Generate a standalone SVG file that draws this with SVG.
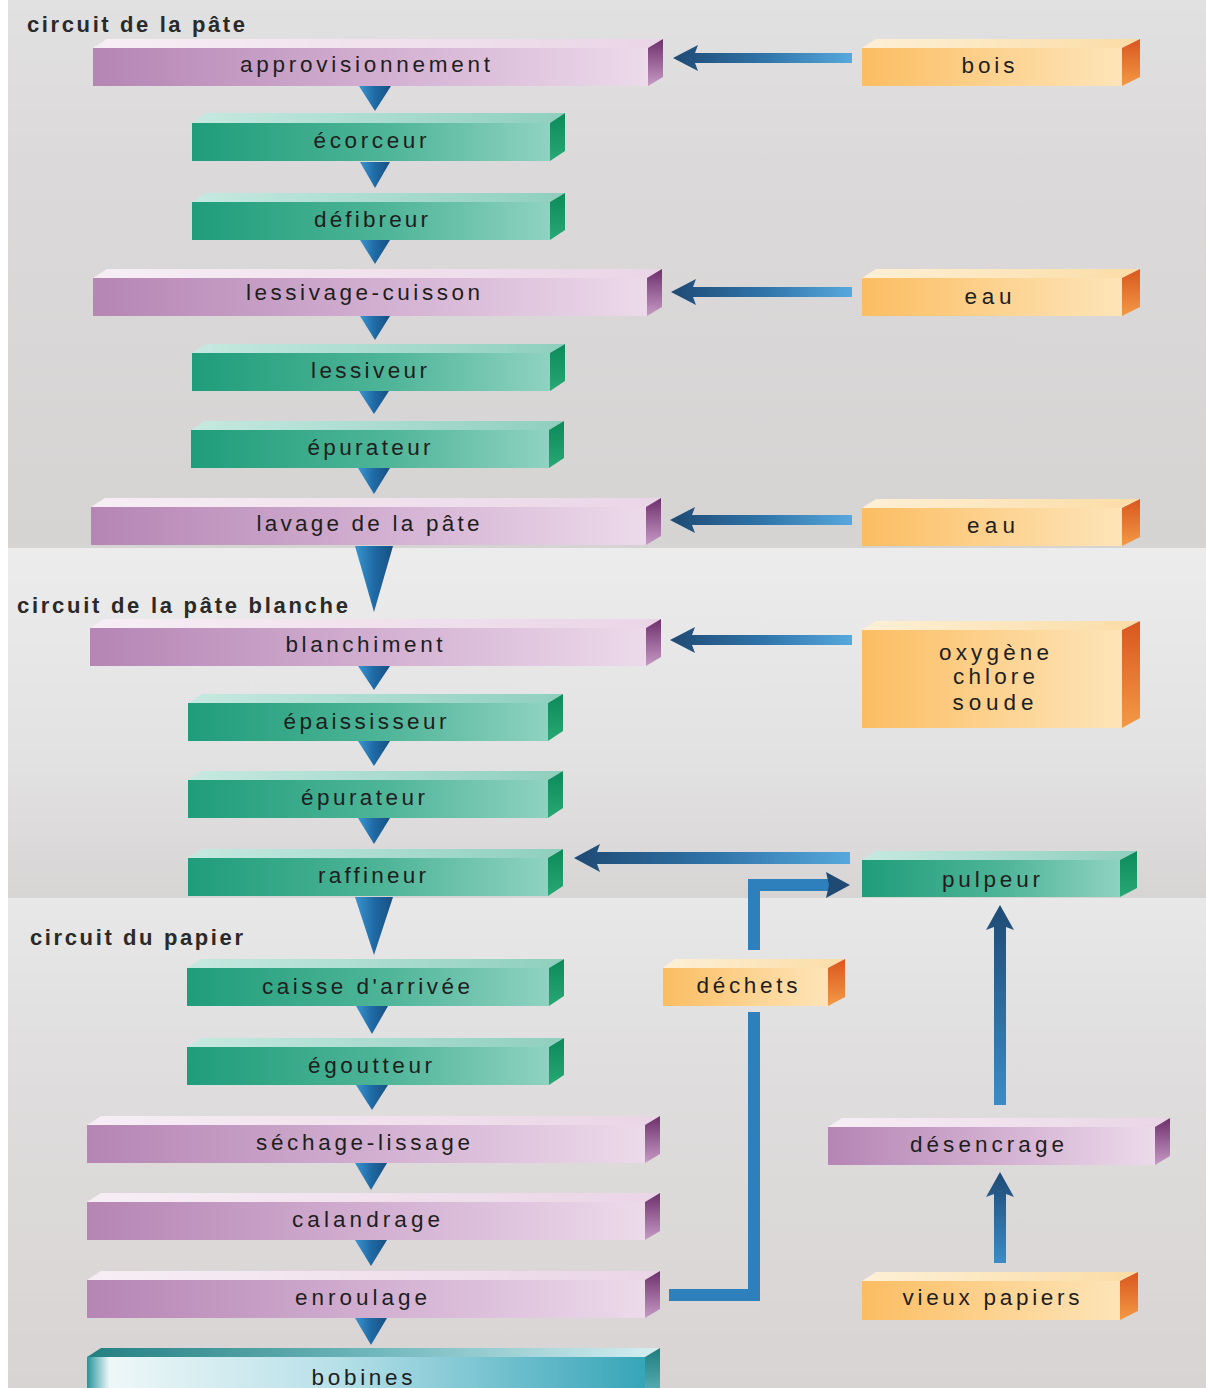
<svg xmlns="http://www.w3.org/2000/svg" width="1206" height="1388" viewBox="0 0 1206 1388">
<defs>
<linearGradient id="bg1" x1="0" y1="0" x2="0" y2="1"><stop offset="0" stop-color="#e2e1e1"/><stop offset="0.3" stop-color="#dbd9d9"/><stop offset="1" stop-color="#d6d3d3"/></linearGradient>
<linearGradient id="bg2" x1="0" y1="0" x2="0" y2="1"><stop offset="0" stop-color="#ececec"/><stop offset="0.6" stop-color="#e3e2e2"/><stop offset="1" stop-color="#d7d4d4"/></linearGradient>
<linearGradient id="bg3" x1="0" y1="0" x2="0" y2="1"><stop offset="0" stop-color="#e8e8e8"/><stop offset="0.4" stop-color="#dedcdc"/><stop offset="1" stop-color="#d8d4d3"/></linearGradient>
<linearGradient id="gPf" x1="0" y1="0" x2="1" y2="0"><stop offset="0" stop-color="#b585b4"/><stop offset="0.55" stop-color="#d4b2d3"/><stop offset="1" stop-color="#ecdaea"/></linearGradient>
<linearGradient id="gPt" x1="0" y1="0" x2="1" y2="0"><stop offset="0" stop-color="#f7eef5"/><stop offset="1" stop-color="#ead5e6"/></linearGradient>
<linearGradient id="gPs" x1="0" y1="0" x2="0" y2="1"><stop offset="0" stop-color="#6d2f6c"/><stop offset="1" stop-color="#c69ac4"/></linearGradient>
<linearGradient id="gGf" x1="0" y1="0" x2="1" y2="0"><stop offset="0" stop-color="#1f9d7a"/><stop offset="0.55" stop-color="#4fb598"/><stop offset="1" stop-color="#8fd2c1"/></linearGradient>
<linearGradient id="gGt" x1="0" y1="0" x2="1" y2="0"><stop offset="0" stop-color="#c6e9e0"/><stop offset="1" stop-color="#8fcfbe"/></linearGradient>
<linearGradient id="gGs" x1="0" y1="0" x2="0" y2="1"><stop offset="0" stop-color="#0c8a5a"/><stop offset="1" stop-color="#28a874"/></linearGradient>
<linearGradient id="gOf" x1="0" y1="0" x2="1" y2="0"><stop offset="0" stop-color="#fbbd62"/><stop offset="0.55" stop-color="#fdd493"/><stop offset="1" stop-color="#fde4b8"/></linearGradient>
<linearGradient id="gOt" x1="0" y1="0" x2="1" y2="0"><stop offset="0" stop-color="#fdf0d6"/><stop offset="1" stop-color="#fbdca6"/></linearGradient>
<linearGradient id="gOs" x1="0" y1="0" x2="0" y2="1"><stop offset="0" stop-color="#d9561e"/><stop offset="1" stop-color="#f39a45"/></linearGradient>
<linearGradient id="gBf" x1="0" y1="0" x2="1" y2="0"><stop offset="0" stop-color="#25959c"/><stop offset="0.04" stop-color="#eef7f8"/><stop offset="0.45" stop-color="#b7e0e8"/><stop offset="1" stop-color="#36a5b8"/></linearGradient>
<linearGradient id="gBt" x1="0" y1="0" x2="1" y2="0"><stop offset="0" stop-color="#237f80"/><stop offset="0.5" stop-color="#6fb7bc"/><stop offset="1" stop-color="#d5eef1"/></linearGradient>
<linearGradient id="gBs" x1="0" y1="0" x2="0" y2="1"><stop offset="0" stop-color="#1e7d7c"/><stop offset="1" stop-color="#5fb3bb"/></linearGradient>
<linearGradient id="gAh" x1="0" y1="0" x2="1" y2="0"><stop offset="0" stop-color="#1f4a74"/><stop offset="0.5" stop-color="#2f73a8"/><stop offset="1" stop-color="#56a8dc"/></linearGradient>
<linearGradient id="gAv" x1="0" y1="0" x2="0" y2="1"><stop offset="0" stop-color="#1f4a74"/><stop offset="1" stop-color="#3a8cc6"/></linearGradient>
<linearGradient id="gTri" x1="0" y1="0" x2="1" y2="0"><stop offset="0" stop-color="#3b95cf"/><stop offset="0.5" stop-color="#1f6aa5"/><stop offset="1" stop-color="#174f80"/></linearGradient>
</defs>
<style>
.pf{fill:url(#gPf)} .pt{fill:url(#gPt)} .ps{fill:url(#gPs)}
.gf{fill:url(#gGf)} .gt{fill:url(#gGt)} .gs{fill:url(#gGs)}
.of{fill:url(#gOf)} .ot{fill:url(#gOt)} .os{fill:url(#gOs)}
.bf{fill:url(#gBf)} .bt{fill:url(#gBt)} .bs{fill:url(#gBs)}
.lbl{font-family:"Liberation Sans",Arial,sans-serif;font-size:22.5px;fill:#1e1e1e;text-anchor:middle}
.ttl{font-family:"Liberation Sans",Arial,sans-serif;font-size:22px;font-weight:bold;fill:#2a2a2a}
.ah{fill:url(#gAh)} .av{fill:url(#gAv)} .tri{fill:url(#gTri)}
.ln{fill:none;stroke:#2e80bd;stroke-width:12}
</style>
<rect x="0" y="0" width="1206" height="1388" fill="#ffffff"/>
<rect x="8" y="0" width="1198" height="548" fill="url(#bg1)"/>
<rect x="8" y="548" width="1198" height="350" fill="url(#bg2)"/>
<rect x="8" y="898" width="1198" height="490" fill="url(#bg3)"/>

<g id="titles">
<text class="ttl" x="27" y="32" textLength="218" lengthAdjust="spacing">circuit de la pâte</text>
<text class="ttl" x="17" y="613" textLength="331" lengthAdjust="spacing">circuit de la pâte blanche</text>
<text class="ttl" x="30" y="945" textLength="213" lengthAdjust="spacing">circuit du papier</text>
</g>

<g id="connectors">
<polygon class="tri" points="359,86 391,86 375,111"/>
<polygon class="tri" points="360,162 390,162 375,188"/>
<polygon class="tri" points="360,240 390,240 375,264"/>
<polygon class="tri" points="360,316 390,316 375,340"/>
<polygon class="tri" points="359,391 389,391 374,414"/>
<polygon class="tri" points="358,468 390,468 374,494"/>
<polygon class="tri" points="355,546 393,546 374,612"/>
<polygon class="tri" points="358,666 390,666 374,690"/>
<polygon class="tri" points="358,741 390,741 374,766"/>
<polygon class="tri" points="358,818 390,818 374,844"/>
<polygon class="tri" points="355,897 393,897 374,955"/>
<polygon class="tri" points="356,1006 388,1006 372,1034"/>
<polygon class="tri" points="356,1085 388,1085 372,1110"/>
<polygon class="tri" points="355,1163 387,1163 371,1190"/>
<polygon class="tri" points="355,1240 387,1240 371,1266"/>
<polygon class="tri" points="355,1318 387,1318 371,1345"/>
<polygon class="ah" points="673,58 698,45 695,53 852,53 852,63 695,63 698,71"/>
<polygon class="ah" points="671,292 696,279 693,287 852,287 852,297 693,297 696,305"/>
<polygon class="ah" points="670,520 695,507 692,515 852,515 852,525 692,525 695,533"/>
<polygon class="ah" points="670,640 695,627 692,635 852,635 852,645 692,645 695,653"/>
<polygon class="ah" points="574,858 600,844 597,852 850,852 850,864 597,864 600,872"/>
<polyline class="ln" points="669,1295 754,1295 754,1012"/>
<polyline class="ln" points="754,950 754,885 830,885"/>
<polygon fill="#1f4a74" points="850,885 826,872 829,885 826,898"/>
<polygon class="av" points="1000,905 1014,930 1006,927 1006,1105 994,1105 994,927 986,930"/>
<polygon class="av" points="1000,1172 1014,1197 1006,1194 1006,1263 994,1263 994,1194 986,1197"/>
</g>

<g id="n-approvisionnement"><polygon class="pt" points="93,48 107,39 663,39 648,48"/><rect class="pf" x="93" y="48" width="555" height="38"/><polygon class="ps" points="648,48 663,39 663,77 648,86"/><text class="lbl" x="365" y="72" textLength="250" lengthAdjust="spacing">approvisionnement</text></g>
<g id="n-ecorceur"><polygon class="gt" points="192,123 206,113 565,113 550,123"/><rect class="gf" x="192" y="123" width="358" height="38"/><polygon class="gs" points="550,123 565,113 565,151 550,161"/><text class="lbl" x="370" y="148" textLength="113" lengthAdjust="spacing">écorceur</text></g>
<g id="n-defibreur"><polygon class="gt" points="192,202 206,193 565,193 550,202"/><rect class="gf" x="192" y="202" width="358" height="38"/><polygon class="gs" points="550,202 565,193 565,230 550,240"/><text class="lbl" x="371" y="227" textLength="114" lengthAdjust="spacing">défibreur</text></g>
<g id="n-lessivage"><polygon class="pt" points="93,278 107,269 662,269 647,278"/><rect class="pf" x="93" y="278" width="554" height="38"/><polygon class="ps" points="647,278 662,269 662,307 647,316"/><text class="lbl" x="363" y="300" textLength="234" lengthAdjust="spacing">lessivage-cuisson</text></g>
<g id="n-lessiveur"><polygon class="gt" points="192,353 206,344 565,344 550,353"/><rect class="gf" x="192" y="353" width="358" height="38"/><polygon class="gs" points="550,353 565,344 565,381 550,391"/><text class="lbl" x="369" y="378" textLength="116" lengthAdjust="spacing">lessiveur</text></g>
<g id="n-epurateur1"><polygon class="gt" points="191,430 205,421 564,421 549,430"/><rect class="gf" x="191" y="430" width="358" height="38"/><polygon class="gs" points="549,430 564,421 564,458 549,468"/><text class="lbl" x="369" y="455" textLength="123" lengthAdjust="spacing">épurateur</text></g>
<g id="n-lavage"><polygon class="pt" points="91,507 105,498 661,498 646,507"/><rect class="pf" x="91" y="507" width="555" height="38"/><polygon class="ps" points="646,507 661,498 661,536 646,545"/><text class="lbl" x="368" y="531" textLength="223" lengthAdjust="spacing">lavage de la pâte</text></g>
<g id="n-blanchiment"><polygon class="pt" points="90,628 104,619 661,619 646,628"/><rect class="pf" x="90" y="628" width="556" height="38"/><polygon class="ps" points="646,628 661,619 661,657 646,666"/><text class="lbl" x="364" y="652" textLength="157" lengthAdjust="spacing">blanchiment</text></g>
<g id="n-epaississeur"><polygon class="gt" points="188,703 202,694 563,694 548,703"/><rect class="gf" x="188" y="703" width="360" height="38"/><polygon class="gs" points="548,703 563,694 563,731 548,741"/><text class="lbl" x="365" y="729" textLength="163" lengthAdjust="spacing">épaississeur</text></g>
<g id="n-epurateur2"><polygon class="gt" points="188,780 202,771 563,771 548,780"/><rect class="gf" x="188" y="780" width="360" height="38"/><polygon class="gs" points="548,780 563,771 563,808 548,818"/><text class="lbl" x="363" y="805" textLength="124" lengthAdjust="spacing">épurateur</text></g>
<g id="n-raffineur"><polygon class="gt" points="188,858 202,849 563,849 548,858"/><rect class="gf" x="188" y="858" width="360" height="38"/><polygon class="gs" points="548,858 563,849 563,886 548,896"/><text class="lbl" x="372" y="883" textLength="108" lengthAdjust="spacing">raffineur</text></g>
<g id="n-caisse"><polygon class="gt" points="187,968 201,959 564,959 549,968"/><rect class="gf" x="187" y="968" width="362" height="38"/><polygon class="gs" points="549,968 564,959 564,996 549,1006"/><text class="lbl" x="366" y="994" textLength="208" lengthAdjust="spacing">caisse d'arrivée</text></g>
<g id="n-egoutteur"><polygon class="gt" points="187,1047 201,1038 564,1038 549,1047"/><rect class="gf" x="187" y="1047" width="362" height="38"/><polygon class="gs" points="549,1047 564,1038 564,1075 549,1085"/><text class="lbl" x="370" y="1073" textLength="124" lengthAdjust="spacing">égoutteur</text></g>
<g id="n-sechage"><polygon class="pt" points="87,1125 101,1116 660,1116 645,1125"/><rect class="pf" x="87" y="1125" width="558" height="38"/><polygon class="ps" points="645,1125 660,1116 660,1154 645,1163"/><text class="lbl" x="363" y="1150" textLength="214" lengthAdjust="spacing">séchage-lissage</text></g>
<g id="n-calandrage"><polygon class="pt" points="87,1202 101,1193 660,1193 645,1202"/><rect class="pf" x="87" y="1202" width="558" height="38"/><polygon class="ps" points="645,1202 660,1193 660,1231 645,1240"/><text class="lbl" x="366" y="1227" textLength="148" lengthAdjust="spacing">calandrage</text></g>
<g id="n-enroulage"><polygon class="pt" points="87,1280 101,1271 660,1271 645,1280"/><rect class="pf" x="87" y="1280" width="558" height="38"/><polygon class="ps" points="645,1280 660,1271 660,1309 645,1318"/><text class="lbl" x="361" y="1305" textLength="132" lengthAdjust="spacing">enroulage</text></g>
<g id="n-bobines"><polygon class="bt" points="87,1357 101,1348 660,1348 645,1357"/><rect class="bf" x="87" y="1357" width="558" height="40"/><polygon class="bs" points="645,1357 660,1348 660,1388 645,1397"/><text class="lbl" x="362" y="1385" textLength="101" lengthAdjust="spacing">bobines</text></g>

<g id="n-bois"><polygon class="ot" points="862,48 876,39 1140,39 1122,48"/><rect class="of" x="862" y="48" width="260" height="38"/><polygon class="os" points="1122,48 1140,39 1140,77 1122,86"/><text class="lbl" x="988" y="73" textLength="53" lengthAdjust="spacing">bois</text></g>
<g id="n-eau1"><polygon class="ot" points="862,278 876,269 1140,269 1122,278"/><rect class="of" x="862" y="278" width="260" height="38"/><polygon class="os" points="1122,278 1140,269 1140,307 1122,316"/><text class="lbl" x="988" y="304" textLength="47" lengthAdjust="spacing">eau</text></g>
<g id="n-eau2"><polygon class="ot" points="862,508 876,499 1140,499 1122,508"/><rect class="of" x="862" y="508" width="260" height="38"/><polygon class="os" points="1122,508 1140,499 1140,537 1122,546"/><text class="lbl" x="991" y="533" textLength="48" lengthAdjust="spacing">eau</text></g>
<g id="n-reactifs"><polygon class="ot" points="862,630 876,621 1140,621 1122,630"/><rect class="of" x="862" y="630" width="260" height="98"/><polygon class="os" points="1122,630 1140,621 1140,718 1122,728"/><text class="lbl" x="994" y="660" textLength="110" lengthAdjust="spacing">oxygène</text><text class="lbl" x="994" y="684" textLength="82" lengthAdjust="spacing">chlore</text><text class="lbl" x="993" y="710" textLength="81" lengthAdjust="spacing">soude</text></g>
<g id="n-pulpeur"><polygon class="gt" points="862,860 876,851 1137,851 1120,860"/><rect class="gf" x="862" y="860" width="258" height="37"/><polygon class="gs" points="1120,860 1137,851 1137,888 1120,897"/><text class="lbl" x="991" y="887" textLength="98" lengthAdjust="spacing">pulpeur</text></g>
<g id="n-dechets"><polygon class="ot" points="663,968 675,959 845,959 828,968"/><rect class="of" x="663" y="968" width="165" height="38"/><polygon class="os" points="828,968 845,959 845,997 828,1006"/><text class="lbl" x="747" y="993" textLength="101" lengthAdjust="spacing">déchets</text></g>
<g id="n-desencrage"><polygon class="pt" points="828,1127 842,1118 1170,1118 1155,1127"/><rect class="pf" x="828" y="1127" width="327" height="38"/><polygon class="ps" points="1155,1127 1170,1118 1170,1156 1155,1165"/><text class="lbl" x="987" y="1152" textLength="154" lengthAdjust="spacing">désencrage</text></g>
<g id="n-vieux"><polygon class="ot" points="862,1281 876,1272 1138,1272 1120,1281"/><rect class="of" x="862" y="1281" width="258" height="39"/><polygon class="os" points="1120,1281 1138,1272 1138,1311 1120,1320"/><text class="lbl" x="991" y="1305" textLength="177" lengthAdjust="spacing">vieux papiers</text></g>
</svg>
